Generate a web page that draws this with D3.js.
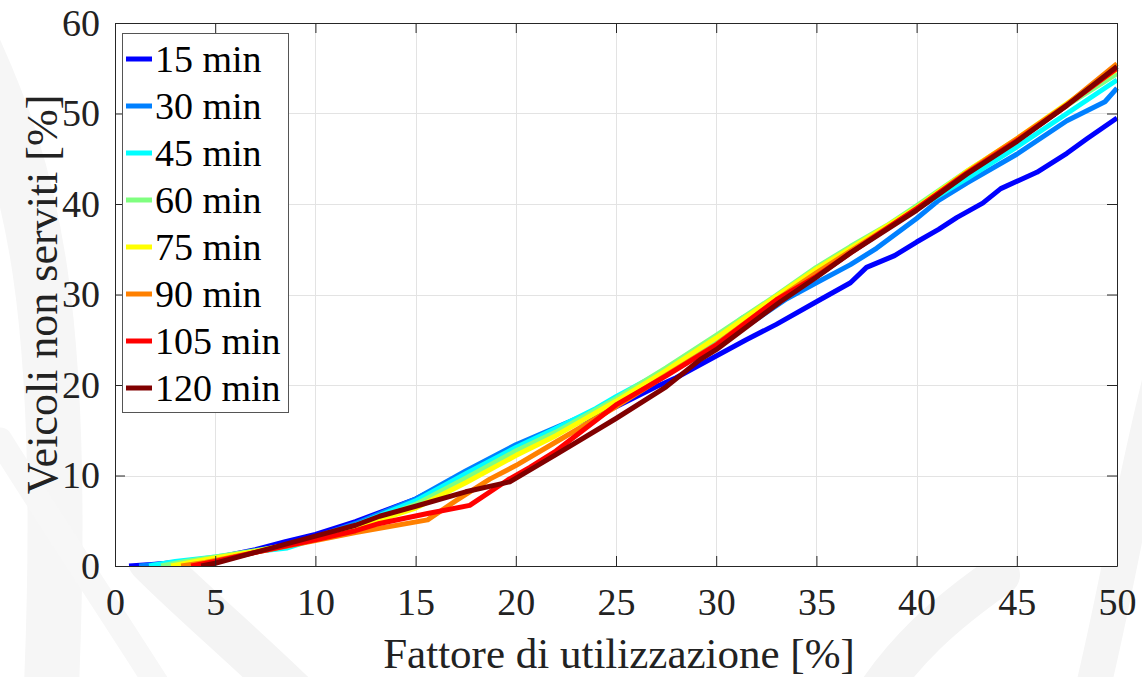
<!DOCTYPE html>
<html>
<head>
<meta charset="utf-8">
<script src="https://cdn.jsdelivr.net/npm/d3@7"></script>
<style>
  html, body { margin: 0; padding: 0; background: #fff; }
  svg { display: block; font-family: "Liberation Serif", "Times New Roman", serif; }
</style>
</head>
<body>
<div id="chart"></div>
<script>
// Data
const seriesNames = ['15 min', '30 min', '45 min', '60 min', '75 min', '90 min', '105 min', '120 min']

const s15 = [[0.7,0],[2,0.2],[3,0.4],[5,0.9],[7,1.8],[8.5,2.7],[10,3.5],[12,4.9],[15,7.4],[17.5,10.2],[20,12.9],[22,14.8],[24,16.7],[25,17.6],[27,19.8],[28,20.8],[30,23.2],[31.5,25],[33,26.7],[35,29.2],[36.7,31.3],[37.5,33],[38.9,34.3],[40,35.8],[41.1,37.2],[42,38.5],[43.3,40.1],[44.2,41.7],[46,43.5],[47.5,45.6],[48.5,47.2],[50,49.5]]
const s30 = [[1.2,0],[3,0.4],[5,0.9],[7,1.6],[8.6,2.1],[10,3.2],[12,4.7],[15,7.4],[17.5,10.5],[20,13.4],[22,15.3],[24,17.2],[25,18.3],[27.5,21.3],[30,24.4],[31.5,26.5],[33.5,29.5],[35,31.3],[36.7,33.3],[38,35.1],[40,38.4],[41.1,40.4],[42.5,42.3],[45,45.5],[47.5,49.2],[49.4,51.3],[50,52.8]]
const s45 = [[1.7,0],[3,0.5],[5,1.0],[7,1.6],[8.6,2.0],[10,3.0],[12,4.5],[15,7.2],[17.5,10.2],[20,13.1],[22,15.2],[24,17.4],[25,18.7],[27.5,21.7],[30,25],[31.3,27.4],[33,29.3],[35,32.5],[36.7,35],[38,36.8],[40,39.5],[41,40.8],[42.5,42.8],[45,46.3],[47.5,50.0],[50,53.7]]
const s60 = [[2.3,0],[3.5,0.5],[5,1.0],[7,1.7],[8.6,2.3],[10,3.0],[12,4.3],[15,6.8],[17.5,9.7],[20,12.7],[22,14.8],[25,18.5],[27.5,21.9],[30,25.5],[33,29.9],[35,33],[36.7,35.3],[38.5,37.6],[40,39.8],[42.5,43.6],[45,47.1],[47.5,50.9],[50,54.4]]
const s75 = [[2.8,0],[4,0.5],[5,0.9],[7,1.6],[10,3.0],[12,4.2],[15,6.4],[17.5,9.2],[20,12.2],[22,14.4],[25,18.2],[27.5,21.6],[30,25.2],[33,29.8],[35,32.8],[36.7,35.1],[40,39.6],[42.5,43.6],[45,47.2],[47.5,51.1],[50,54.9]]
const s90 = [[3.3,0],[4.5,0.4],[5,0.6],[7,1.5],[10,2.8],[12,3.7],[15.6,5.1],[17,7.2],[18.7,9.6],[20,11.1],[22,13.7],[25,17.6],[27.5,21.1],[30,24.5],[33,29.4],[35,32.4],[36.7,34.8],[40,39.4],[42,42.7],[43.7,45.3],[45,47.2],[47.5,51],[50,55.5]]
const s105 = [[3.8,0],[5,0.5],[7,1.5],[10,2.9],[12,3.9],[13.2,4.7],[15.6,5.8],[17.7,6.7],[19.6,9.5],[20.7,10.9],[22,12.7],[25,17.8],[27.5,21],[30,24.4],[33,29.4],[35,32],[36.7,34.6],[40,39.5],[42.5,43.4],[45,47],[47.5,50.9],[50,55]]
const s120 = [[4.3,0],[5,0.3],[7,1.5],[10,3.3],[12,4.5],[13.2,5.5],[15,6.6],[17.5,8.2],[19.7,9.3],[22,12.3],[25,16.3],[27.5,19.8],[29.2,22.8],[30,23.9],[33.2,29.2],[35,31.9],[36.7,34.6],[40,39.3],[42.5,43.3],[45,46.9],[47.5,50.9],[50,55.2]]

const seriesValues = [s15, s30, s45, s60, s75, s90, s105, s120]

const xTicks = [0, 5, 10, 15, 20, 25, 30, 35, 40, 45, 50]
const yTicks = [0, 10, 20, 30, 40, 50, 60]

// jet colormap, 8 steps
const colors = ['#0000ff', '#0080ff', '#00ffff', '#80ff80', '#ffff00', '#ff8000', '#ff0000', '#800000']

function draw() {
  const dimensions = {
    width: 1142,
    height: 677,
    left: 115,
    right: 1117,
    top: 23,
    bottom: 566,
  }

  const svg = d3.select('#chart')
    .append('svg')
    .attr('width', dimensions.width)
    .attr('height', dimensions.height)

  // faint background swooshes (figure background)
  const bg = svg.append('g').attr('fill', 'none').attr('stroke-linecap', 'round')
  const swooshes = [
    { d: 'M -30 40 C 30 170, 70 300, 50 720', w: 55, c: '#f6f6f6' },
    { d: 'M 150 560 C 200 610, 250 650, 320 720', w: 45, c: '#f4f4f4' },
    { d: 'M 0 440 C 50 520, 110 610, 180 720', w: 25, c: '#f7f7f7' },
    { d: 'M 860 720 C 900 650, 950 610, 1000 575', w: 40, c: '#f4f4f4' },
    { d: 'M 1090 700 C 1115 600, 1130 500, 1160 380', w: 35, c: '#f5f5f5' },
  ]
  bg.selectAll('path')
    .data(swooshes)
    .join('path')
    .attr('d', d => d.d)
    .attr('stroke', d => d.c)
    .attr('stroke-width', d => d.w)

  // Scales
  const xScale = d3.scaleLinear()
    .domain([0, 50])
    .range([dimensions.left, dimensions.right])

  const yScale = d3.scaleLinear()
    .domain([0, 60])
    .range([dimensions.bottom, dimensions.top])

  const plotW = dimensions.right - dimensions.left
  const plotH = dimensions.bottom - dimensions.top

  // plot background
  svg.append('rect')
    .attr('x', dimensions.left)
    .attr('y', dimensions.top)
    .attr('width', plotW)
    .attr('height', plotH)
    .attr('fill', '#fff')

  // grid
  const grid = svg.append('g').attr('stroke', '#e3e3e3').attr('stroke-width', 1)
  grid.selectAll('.gx')
    .data(xTicks.slice(1, -1))
    .join('line')
    .attr('class', 'gx')
    .attr('x1', d => Math.round(xScale(d)) + 0.5)
    .attr('x2', d => Math.round(xScale(d)) + 0.5)
    .attr('y1', dimensions.top)
    .attr('y2', dimensions.bottom)
  grid.selectAll('.gy')
    .data(yTicks.slice(1, -1))
    .join('line')
    .attr('class', 'gy')
    .attr('y1', d => Math.round(yScale(d)) + 0.5)
    .attr('y2', d => Math.round(yScale(d)) + 0.5)
    .attr('x1', dimensions.left)
    .attr('x2', dimensions.right)

  // lines
  const lineGenerator = d3.line()
    .x(d => xScale(d[0]))
    .y(d => yScale(d[1]))

  svg.append('clipPath').attr('id', 'plotclip')
    .append('rect')
    .attr('x', dimensions.left)
    .attr('y', dimensions.top - 5)
    .attr('width', plotW + 3)
    .attr('height', plotH + 5)

  svg.append('g')
    .attr('clip-path', 'url(#plotclip)')
    .selectAll('path')
    .data(seriesValues)
    .join('path')
    .attr('d', d => lineGenerator(d))
    .attr('fill', 'none')
    .attr('stroke', (d, i) => colors[i])
    .attr('stroke-width', 5)
    .attr('stroke-linejoin', 'round')

  // axes (ticks inward, box on)
  const axisColor = '#262626'
  const fmt = d3.format('d')

  const xAxis = d3.axisBottom(xScale).tickValues(xTicks).tickFormat(fmt)
    .tickSizeInner(-10).tickSizeOuter(0).tickPadding(22)
  const yAxis = d3.axisLeft(yScale).tickValues(yTicks).tickFormat(fmt)
    .tickSizeInner(-10).tickSizeOuter(0).tickPadding(15)
  const xAxisTop = d3.axisTop(xScale).tickValues(xTicks).tickFormat('')
    .tickSizeInner(-10).tickSizeOuter(0)
  const yAxisRight = d3.axisRight(yScale).tickValues(yTicks).tickFormat('')
    .tickSizeInner(-10).tickSizeOuter(0)

  const styleAxis = g => {
    g.selectAll('.domain').attr('stroke', axisColor)
    g.selectAll('.tick line').attr('stroke', axisColor)
    g.selectAll('text')
      .attr('fill', '#222')
      .style('font-family', '"Liberation Serif", "Times New Roman", serif')
      .style('font-size', '38px')
  }

  svg.append('g')
    .attr('transform', `translate(0, ${dimensions.bottom})`)
    .call(xAxis)
    .call(styleAxis)

  svg.append('g')
    .attr('transform', `translate(${dimensions.left}, 0)`)
    .call(yAxis)
    .call(styleAxis)

  svg.append('g')
    .attr('transform', `translate(0, ${dimensions.top})`)
    .call(xAxisTop)
    .call(styleAxis)

  svg.append('g')
    .attr('transform', `translate(${dimensions.right}, 0)`)
    .call(yAxisRight)
    .call(styleAxis)

  // axis labels
  svg.append('text')
    .attr('x', 619)
    .attr('y', 668)
    .attr('text-anchor', 'middle')
    .attr('fill', '#222')
    .style('font-size', '43px')
    .text('Fattore di utilizzazione [%]')

  svg.append('text')
    .attr('transform', `translate(57, ${(dimensions.top + dimensions.bottom) / 2}) rotate(-90)`)
    .attr('text-anchor', 'middle')
    .attr('fill', '#222')
    .style('font-size', '44px')
    .text('Veicoli non serviti [%]')

  // legend
  const legend = svg.append('g')
  legend.append('rect')
    .attr('x', 122.5)
    .attr('y', 33.5)
    .attr('width', 166)
    .attr('height', 379)
    .attr('fill', '#fff')
    .attr('stroke', '#555')
    .attr('stroke-width', 1)

  const rowY = d3.scaleLinear().domain([0, seriesNames.length - 1]).range([59, 388])

  const item = legend.selectAll('.item')
    .data(seriesNames)
    .join('g')
    .attr('class', 'item')
    .attr('transform', (d, i) => `translate(0, ${rowY(i)})`)

  item.append('line')
    .attr('x1', 126)
    .attr('x2', 152)
    .attr('stroke', (d, i) => colors[i])
    .attr('stroke-width', 5)

  item.append('text')
    .attr('x', 155)
    .attr('dy', '0.34em')
    .attr('fill', '#000')
    .style('font-size', '38px')
    .text(d => d)
}

draw()
</script>
</body>
</html>
